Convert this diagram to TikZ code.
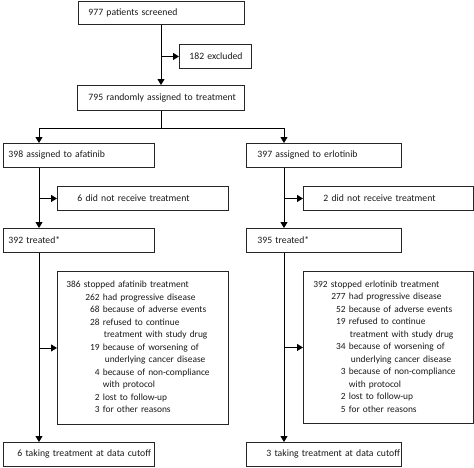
\documentclass[tikz,border=0pt]{standalone}
\usepackage{fontspec}
\setmainfont{Carlito}
\usetikzlibrary{arrows.meta}
\newcommand{\pad}[1]{\hspace*{#1pt}}

\begin{document}
\begin{tikzpicture}[x=1pt,y=-1pt,line width=0.9pt,
    font=\fontsize{9.7}{12.5}\selectfont,
    box/.style={draw=black!85,text=black!90,text width=#1,inner xsep=0pt,inner ysep=0pt,
        minimum height=24pt,align=left,anchor=north west},
    reasons/.style={font=\fontsize{9.4}{12.5}\selectfont},
    arr/.style={-{Triangle[width=7pt,length=6pt]}}]
    \useasboundingbox (0,0) rectangle (474,467);

    % screening and randomisation
    \node[box=166pt,minimum height=23.5pt] (screened) at (78,0.5) {\pad{10}977 patients screened};
    \node[box=72pt] (excluded) at (179,44) {\pad{10}182 excluded};
    \node[box=167pt,minimum height=25pt] (random) at (77,85) {\pad{11}795 randomly assigned to treatment};

    % afatinib arm
    \node[box=151pt] (afatinib) at (3,143) {\pad{5}398 assigned to afatinib};
    \node[box=171pt] (nonrecA) at (57,186) {\pad{20}6 did not receive treatment};
    \node[box=151pt] (treatedA) at (3,228) {\pad{5}392 treated*};
    \node[box=171pt,reasons,minimum height=153pt] (stopA) at (57,271) {\pad{9}%
        \begin{tabular}{@{\hspace{19pt}}r@{\ }l@{}}
        \multicolumn{2}{@{}l@{}}{386 stopped afatinib treatment}\\
        262 & had progressive disease\\
        68 & because of adverse events\\
        28 & refused to continue\\
         & \pad{1}treatment with study drug\\
        19 & because of worsening of\\
         & \pad{2}underlying cancer disease\\
        4 & because of non-compliance\\
         & with protocol\\
        2 & lost to follow-up\\
        3 & for other reasons
        \end{tabular}};
    \node[box=151pt] (cutoffA) at (3,442) {\pad{14}6 taking treatment at data cutoff};

    % erlotinib arm
    \node[box=155pt] (erlotinib) at (246,143) {\pad{11}397 assigned to erlotinib};
    \node[box=170pt] (nonrecE) at (303,186) {\pad{20}2 did not receive treatment};
    \node[box=155pt] (treatedE) at (246,228) {\pad{11}395 treated*};
    \node[box=170pt,reasons,minimum height=152pt] (stopE) at (303,271) {\pad{10}%
        \begin{tabular}{@{\hspace{18pt}}r@{\ }l@{}}
        \multicolumn{2}{@{}l@{}}{392 stopped erlotinib treatment}\\
        277 & had progressive disease\\
        52 & because of adverse events\\
        19 & refused to continue\\
         & \pad{1}treatment with study drug\\
        34 & because of worsening of\\
         & \pad{2}underlying cancer disease\\
        3 & because of non-compliance\\
         & with protocol\\
        2 & lost to follow-up\\
        5 & for other reasons
        \end{tabular}};
    \node[box=155pt] (cutoffE) at (246,442) {\pad{20}3 taking treatment at data cutoff};

    % connectors
    \coordinate (colS) at (161,0);
    \coordinate (colA) at (39,0);
    \coordinate (colE) at (284,0);
    \coordinate (split) at (161,128);

    \draw[arr] (colS |- screened.south) -- (colS |- random.north);
    \draw[arr] (colS |- excluded.west) -- (excluded.west);
    \draw (colS |- random.south) -- (split);
    \draw[arr] (split) -| (colA |- afatinib.north);
    \draw[arr] (split) -| (colE |- erlotinib.north);

    \draw[arr] (colA |- afatinib.south) -- (colA |- treatedA.north);
    \draw[arr] (colA |- nonrecA.west) -- (nonrecA.west);
    \draw[arr] (colA |- treatedA.south) -- (colA |- cutoffA.north);
    \draw[arr] (colA |- stopA.west) -- (stopA.west);

    \draw[arr] (colE |- erlotinib.south) -- (colE |- treatedE.north);
    \draw[arr] (colE |- nonrecE.west) -- (nonrecE.west);
    \draw[arr] (colE |- treatedE.south) -- (colE |- cutoffE.north);
    \draw[arr] (colE |- stopE.west) -- (stopE.west);
\end{tikzpicture}
\end{document}
